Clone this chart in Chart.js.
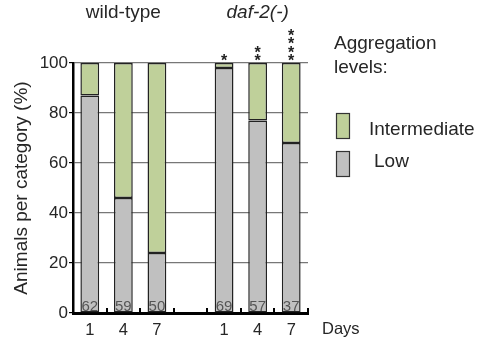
<!DOCTYPE html>
<html>
<head>
<meta charset="utf-8">
<script src="https://cdn.jsdelivr.net/npm/chart.js@4"></script>
<style>
  html, body { margin: 0; padding: 0; background: #fff; }
  #wrap { width: 481px; height: 341px; }
</style>
</head>
<body>
<div id="wrap"><canvas id="chart" width="481" height="341"></canvas></div>
<script>
// categories (days), blank slot separates the two strains
const days = ["1", "4", "7", "", "1", "4", "7"];
// % of animals in each aggregation level
const lowValues = [87, 46, 24, null, 98, 77, 68];
const intermediateValues = [13, 54, 76, null, 2, 23, 32];
// number of animals per bar
const counts = ["62", "59", "50", "", "69", "57", "37"];
// significance stars above bars
const stars = [0, 0, 0, 0, 1, 2, 4];
// group headers: [label, category index, italic]
const groups = [["wild-type", 1, false], ["daf-2(-)", 5, true]];
const yTicks = [0, 20, 40, 60, 80, 100];

const FONT = "'Liberation Sans', Arial, sans-serif";
const GREEN = "#bfd09a";
const GRAY = "#c0c0c0";
const TEXT = "#262626";

// draws the extra text: counts, stars, group headers, legend, "Days", x ticks
const extras = {
  id: "extras",
  afterDatasetsDraw(chart) {
    const ctx = chart.ctx;
    const x = chart.scales.x;
    const y = chart.scales.y;
    const area = chart.chartArea;
    ctx.save();

    // counts inside bars at the bottom
    ctx.font = "15px " + FONT;
    ctx.fillStyle = "#555";
    ctx.textAlign = "center";
    ctx.textBaseline = "alphabetic";
    counts.forEach((c, i) => {
      if (c) ctx.fillText(c, x.getPixelForValue(i), y.getPixelForValue(0) - 2.5);
    });

    // stars
    ctx.font = "bold 16px " + FONT;
    ctx.fillStyle = "#222";
    ctx.textBaseline = "middle";
    stars.forEach((n, i) => {
      for (let k = 0; k < n; k++) {
        ctx.fillText("*", x.getPixelForValue(i), y.getPixelForValue(100) - 1.5 - k * 8.3);
      }
    });

    // group headers
    ctx.fillStyle = TEXT;
    ctx.textBaseline = "middle";
    groups.forEach(([label, idx, italic]) => {
      ctx.font = (italic ? "italic " : "") + "19px " + FONT;
      ctx.fillText(label, x.getPixelForValue(idx), 13);
    });

    // x axis inner tick marks at category boundaries
    ctx.strokeStyle = "#000";
    ctx.lineWidth = 2;
    const half = (x.getPixelForValue(1) - x.getPixelForValue(0)) / 2;
    for (let i = 0; i < days.length; i++) {
      const px = Math.round(x.getPixelForValue(i) + half);
      ctx.beginPath();
      ctx.moveTo(px, area.bottom);
      ctx.lineTo(px, area.bottom - 5);
      ctx.stroke();
    }

    // "Days"
    ctx.font = "16.5px " + FONT;
    ctx.textAlign = "left";
    ctx.fillText("Days", 322, 329);

    // legend
    ctx.font = "19px " + FONT;
    ctx.fillText("Aggregation", 334, 44);
    ctx.fillText("levels:", 334, 68);
    ctx.lineWidth = 1.2;
    ctx.strokeStyle = "#333";
    ctx.fillStyle = GREEN;
    ctx.fillRect(336.5, 113.5, 13, 25);
    ctx.strokeRect(336.5, 113.5, 13, 25);
    ctx.fillStyle = GRAY;
    ctx.fillRect(336.5, 151.5, 13, 25);
    ctx.strokeRect(336.5, 151.5, 13, 25);
    ctx.fillStyle = TEXT;
    ctx.fillText("Intermediate", 369, 130);
    ctx.fillText("Low", 374, 162);

    ctx.restore();
  }
};

new Chart(document.getElementById("chart"), {
  type: "bar",
  data: {
    labels: days,
    datasets: [
      {
        label: "Low",
        data: lowValues,
        backgroundColor: GRAY,
        borderColor: "#222",
        borderWidth: 1.5,
        borderSkipped: false,
        barPercentage: 0.56,
        categoryPercentage: 1
      },
      {
        label: "Intermediate",
        data: intermediateValues,
        backgroundColor: GREEN,
        borderColor: "#222",
        borderWidth: 1.5,
        borderSkipped: false,
        barPercentage: 0.56,
        categoryPercentage: 1
      }
    ]
  },
  options: {
    responsive: false,
    animation: false,
    layout: { padding: { left: 0, top: 63, right: 173, bottom: 0 } },
    plugins: { legend: { display: false }, tooltip: { enabled: false } },
    scales: {
      x: {
        stacked: true,
        afterFit: (s) => { s.height = 28; },
        grid: { display: false },
        border: { display: true, color: "#000", width: 3 },
        ticks: { color: TEXT, font: { family: FONT, size: 16.5 }, padding: 0, maxRotation: 0 }
      },
      y: {
        stacked: true,
        min: 0,
        max: 100,
        afterFit: (s) => { s.width = 73; },
        afterBuildTicks: (s) => { s.ticks = yTicks.map((v) => ({ value: v })); },
        grid: { color: "#777", tickColor: "#000", tickLength: 4, lineWidth: 1.2 },
        border: { display: true, color: "#000", width: 2.5 },
        ticks: { color: TEXT, font: { family: FONT, size: 17 }, padding: 1 },
        title: {
          display: true,
          text: "Animals per category (%)",
          color: TEXT,
          font: { family: FONT, size: 19 },
          padding: { top: 10, bottom: 0 }
        }
      }
    }
  },
  plugins: [extras]
});
</script>
</body>
</html>
